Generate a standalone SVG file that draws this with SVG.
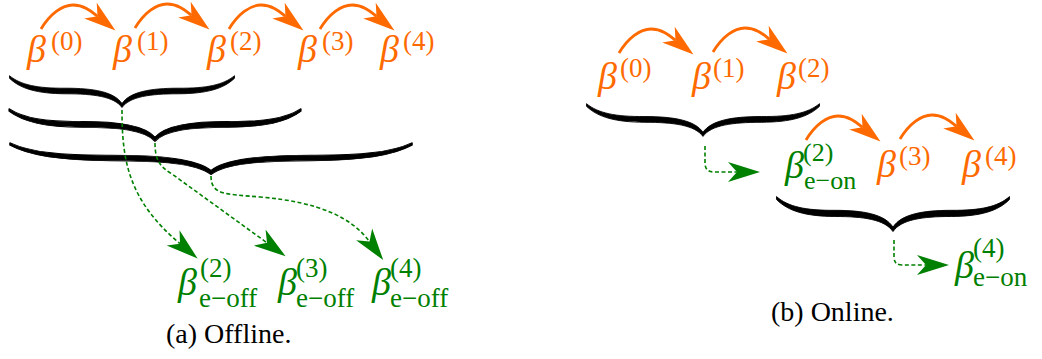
<svg xmlns="http://www.w3.org/2000/svg" xmlns:xlink="http://www.w3.org/1999/xlink" width="1042" height="359" viewBox="0 0 1042 359">
<style>
.b{font-family:"Liberation Serif","Times New Roman",serif;font-style:italic;font-size:38px}
.s{font-family:"Liberation Serif","Times New Roman",serif;font-size:27px}
.ss{font-family:"Liberation Serif","Times New Roman",serif;font-size:26px}
.cap{font-family:"Liberation Serif","Times New Roman",serif;font-size:28px;fill:#000}
.o{fill:#ff6a00}
.g{fill:#008000}
.oa{fill:none;stroke:#ff6a00;stroke-width:2.8;marker-end:url(#aho)}
.ga{fill:none;stroke:#008000;stroke-width:1.6;stroke-dasharray:4 2.5;marker-end:url(#ahg)}
.br{fill:#000;stroke:#000;stroke-width:0.8;stroke-linejoin:round}
</style>
<defs>
<marker id="aho" markerUnits="userSpaceOnUse" viewBox="0 -11 33 22" markerWidth="33" markerHeight="22" refX="9" refY="0" orient="auto"><path d="M0,-10 L32,0 L0,10 L9,0 Z" fill="#ff6a00"/></marker>
<marker id="ahg" markerUnits="userSpaceOnUse" viewBox="0 -11 33 22" markerWidth="33" markerHeight="22" refX="9" refY="0" orient="auto"><path d="M0,-10 L32,0 L0,10 L9,0 Z" fill="#008000"/></marker>
<path id="brace" d="M-100,-1.3 C-90,8 -75,11.4 -50,11.2 C-25,11.2 -7,14.9 0,26.5 C7,14.9 25,11.2 50,11.2 C75,11.4 90,8 100,-1.3 L100,1.3 C90,12 75,16.6 50,16.8 C25,16.8 7,19.6 0,30.5 C-7,19.6 -25,16.8 -50,16.8 C-75,16.6 -90,12 -100,1.3 Z"/>
<path id="oarc" d="M0,0 C9,-15 21,-24 32,-24 C43,-24 50,-18 56.5,-12.8"/>
</defs>

<!-- (a) Offline -->
<g id="a-beta0"><text class="b o" x="27" y="62">β</text><text class="s o" x="51" y="50">(0)</text></g>
<g id="a-beta1"><text class="b o" x="113" y="62">β</text><text class="s o" x="137" y="50">(1)</text></g>
<g id="a-beta2"><text class="b o" x="207" y="62">β</text><text class="s o" x="230" y="50">(2)</text></g>
<g id="a-beta3"><text class="b o" x="298" y="62">β</text><text class="s o" x="322" y="50">(3)</text></g>
<g id="a-beta4"><text class="b o" x="380" y="62">β</text><text class="s o" x="403" y="50">(4)</text></g>

<g id="a-brace1" class="br"><use xlink:href="#brace" transform="translate(122,77) scale(1.125,1)"/></g>
<g id="a-brace2" class="br"><use xlink:href="#brace" transform="translate(155,110) scale(1.46,1.03)"/></g>
<g id="a-brace3" class="br"><use xlink:href="#brace" transform="translate(211,144) scale(2.01,1)"/></g>

<g id="a-eoff2"><text class="b g" x="178" y="295">β</text><text class="s g" x="200" y="277">(2)</text><text class="s g" x="199" y="307">e−off</text></g>
<g id="a-eoff3"><text class="b g" x="278" y="295">β</text><text class="s g" x="296" y="277">(3)</text><text class="s g" x="296" y="307">e−off</text></g>
<g id="a-eoff4"><text class="b g" x="372" y="295">β</text><text class="s g" x="390" y="277">(4)</text><text class="s g" x="390" y="307">e−off</text></g>

<g id="a-caption"><text class="cap" x="166" y="343">(a) Offline.</text></g>

<!-- (b) Online -->
<g id="b-beta0"><text class="b o" x="598" y="89">β</text><text class="s o" x="620" y="77">(0)</text></g>
<g id="b-beta1"><text class="b o" x="692" y="89">β</text><text class="s o" x="713" y="77">(1)</text></g>
<g id="b-beta2"><text class="b o" x="777" y="89">β</text><text class="s o" x="798" y="77">(2)</text></g>
<g id="b-brace1" class="br"><use xlink:href="#brace" transform="translate(703,105) scale(1.165,1.03)"/></g>

<g id="b-eon2"><text class="b g" x="785" y="178">β</text><text class="ss g" x="803" y="161">(2)</text><text class="ss g" x="804" y="189">e−on</text></g>
<g id="b-beta3"><text class="b o" x="877" y="177">β</text><text class="s o" x="899" y="165">(3)</text></g>
<g id="b-beta4"><text class="b o" x="962" y="177">β</text><text class="s o" x="985" y="165">(4)</text></g>
<g id="b-brace2" class="br"><use xlink:href="#brace" transform="translate(893,198) scale(1.165,1.1)"/></g>

<g id="b-eon4"><text class="b g" x="955" y="278">β</text><text class="s g" x="973" y="257">(4)</text><text class="s g" x="973" y="286">e−on</text></g>

<g id="b-caption"><text class="cap" x="771" y="321">(b) Online.</text></g>

<g id="connectors">
<use class="oa" xlink:href="#oarc" transform="translate(41,29)"/>
<use class="oa" xlink:href="#oarc" transform="translate(135,28)"/>
<use class="oa" xlink:href="#oarc" transform="translate(229,29)"/>
<use class="oa" xlink:href="#oarc" transform="translate(320,29)"/>
<use class="oa" xlink:href="#oarc" transform="translate(619,53)"/>
<use class="oa" xlink:href="#oarc" transform="translate(713,52)"/>
<use class="oa" xlink:href="#oarc" transform="translate(806,140)"/>
<use class="oa" xlink:href="#oarc" transform="translate(900,139)"/>
<path class="ga" d="M122,110 C122,160 128,200 180,243.7"/>
<path class="ga" d="M155,143 C155,160 160,167 172,174 L267,242.8"/>
<path class="ga" d="M211,176 C211,195 225,194 260,197 C320,202 352,218 369.5,241.6"/>
<path class="ga" d="M705,146 L705,163 Q705,172 714,172 L737,172"/>
<path class="ga" d="M894,240 L894,257 Q894,265 902,265 L926,265"/>
</g>
</svg>
